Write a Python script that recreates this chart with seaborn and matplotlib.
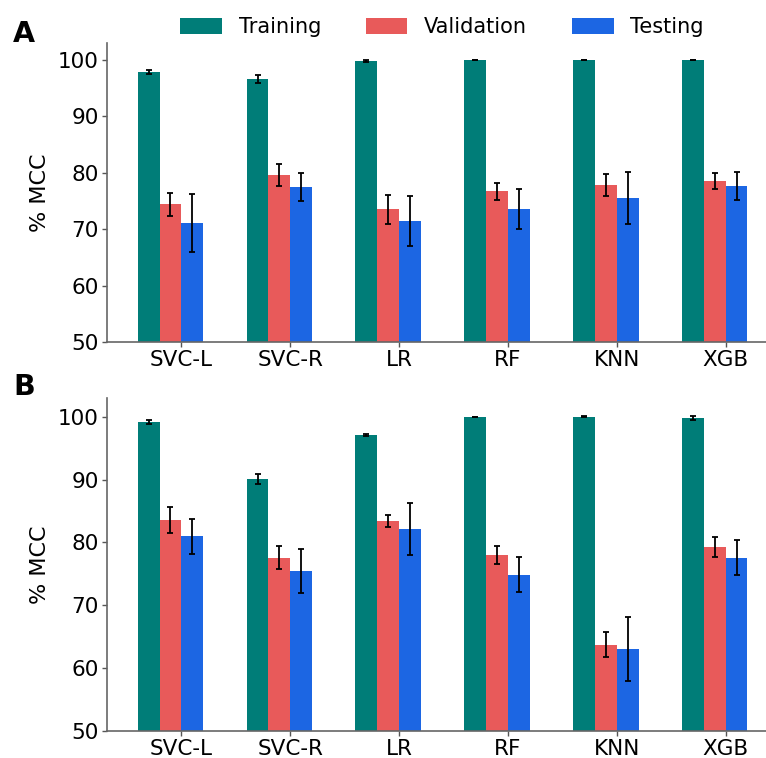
import numpy as np
import pandas as pd
import matplotlib
matplotlib.use("Agg")
import matplotlib.pyplot as plt
import seaborn as sns

models = ["SVC-L", "SVC-R", "LR", "RF", "KNN", "XGB"]
splits = ["Training", "Validation", "Testing"]

# Panel A: mean % MCC and spread per model
a_train = [97.9, 96.6, 99.9, 100.0, 100.0, 100.0]
a_train_err = [0.35, 0.7, 0.2, 0.05, 0.05, 0.05]
a_val = [74.4, 79.6, 73.5, 76.7, 77.8, 78.5]
a_val_err = [2.0, 1.9, 2.5, 1.5, 1.95, 1.4]
a_test = [71.1, 77.5, 71.4, 73.6, 75.6, 77.6]
a_test_err = [5.2, 2.5, 4.4, 3.5, 4.6, 2.5]

# Panel B
b_train = [99.15, 90.1, 97.1, 99.95, 100.0, 99.85]
b_train_err = [0.35, 0.8, 0.1, 0.05, 0.05, 0.3]
b_val = [83.6, 77.6, 83.4, 78.0, 63.7, 79.3]
b_val_err = [2.05, 1.86, 1.0, 1.5, 2.0, 1.65]
b_test = [81.0, 75.4, 82.15, 74.9, 63.0, 77.6]
b_test_err = [2.8, 3.5, 4.2, 2.8, 5.1, 2.8]

colors = ["#007d78", "#e85a5a", "#1c66e3"]


def build(train, val, test, train_err, val_err, test_err):
    rows = []
    for vals, errs, split in [(train, train_err, "Training"),
                              (val, val_err, "Validation"),
                              (test, test_err, "Testing")]:
        for m, v, e in zip(models, vals, errs):
            rows.append({"Model": m, "Split": split, "MCC": v, "err": e})
    return pd.DataFrame(rows)


sns.set_style("white")
plt.rcParams["font.family"] = ["DejaVu Sans"]
plt.rcParams["text.color"] = "black"
plt.rcParams["axes.labelcolor"] = "black"
plt.rcParams["xtick.color"] = "black"
plt.rcParams["ytick.color"] = "black"

fig = plt.figure(figsize=(7.66, 7.58), dpi=100)
ax_a = fig.add_axes([0.14, 0.549, 0.86, 0.394])
ax_b = fig.add_axes([0.14, 0.0356, 0.86, 0.4394])

panels = [
    (ax_a, build(a_train, a_val, a_test, a_train_err, a_val_err, a_test_err), "A"),
    (ax_b, build(b_train, b_val, b_test, b_train_err, b_val_err, b_test_err), "B"),
]

for ax, df, tag in panels:
    sns.barplot(data=df, x="Model", y="MCC", hue="Split", order=models,
                hue_order=splits, palette=colors, width=0.6, errorbar=None,
                saturation=1, linewidth=0, ax=ax, legend=(tag == "A"))
    # error bars at the centre of each drawn bar
    for container, split in zip(ax.containers, splits):
        sub = df[df["Split"] == split].set_index("Model").loc[models]
        xs = [p.get_x() + p.get_width() / 2 for p in container.patches]
        ys = [p.get_height() for p in container.patches]
        ax.errorbar(xs, ys, yerr=sub["err"].values, fmt="none", ecolor="black",
                    elinewidth=1.3, capsize=2.5, capthick=1.3, zorder=5)
    ax.set_ylim(50, 103)
    ax.set_yticks([50, 60, 70, 80, 90, 100])
    ax.set_xlim(-0.58, 5.47)
    ax.set_xticks(np.arange(len(models)) + 0.1)
    ax.set_xticklabels(models)
    ax.set_xlabel("")
    ax.set_ylabel("% MCC", fontsize=16, labelpad=6)
    ax.tick_params(axis="both", labelsize=15.5, length=3.5, width=1,
                   color="#555555", left=True, bottom=True, pad=2.5)
    for side in ["top", "right"]:
        ax.spines[side].set_visible(False)
    for side in ["left", "bottom"]:
        ax.spines[side].set_color("#666666")
        ax.spines[side].set_linewidth(1.2)

handles, labels = ax_a.get_legend_handles_labels()
ax_a.get_legend().remove()
fig.legend(handles, labels, loc="center", bbox_to_anchor=(0.577, 0.964),
           ncol=3, frameon=False, fontsize=15, handlelength=2.0,
           handleheight=0.75, handletextpad=0.8, columnspacing=2.15)

fig.text(0.017, 0.955, "A", fontsize=20.5, fontweight="bold", va="center")
fig.text(0.017, 0.49, "B", fontsize=20.5, fontweight="bold", va="center")

fig.savefig("out.png", dpi=100)
